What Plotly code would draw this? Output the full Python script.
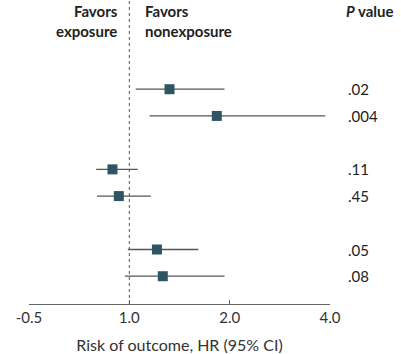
import plotly.graph_objects as go
import math

row_pos = [0, 1, 3, 4, 6, 7]
hr = [1.32, 1.83, 0.89, 0.93, 1.21, 1.26]
ci_low = [1.045, 1.15, 0.795, 0.80, 0.99, 0.97]
ci_high = [1.93, 3.87, 1.06, 1.16, 1.61, 1.93]
p_values = [".02", ".004", ".11", ".45", ".05", ".08"]
tick_vals = [0.5, 1, 2, 4]
tick_text = ["-0.5", "1.0", "2.0", "4.0"]

FONT = "Lato, Roboto, Arial, sans-serif"
fig = go.Figure()
fig.add_trace(go.Scatter(
    x=hr, y=row_pos, mode="markers",
    marker=dict(symbol="square", size=10, color="#2d5564"),
    error_x=dict(type="data", symmetric=False,
                 array=[h - v for h, v in zip(ci_high, hr)],
                 arrayminus=[v - l for v, l in zip(hr, ci_low)],
                 color="#555555", thickness=1.3, width=0),
    showlegend=False, hoverinfo="skip"))

fig.add_shape(type="line", xref="x", yref="paper", x0=1, x1=1, y0=0, y1=1,
              line=dict(color="#555555", width=1, dash="dot"), layer="below")

for y, p in zip(row_pos, p_values):
    fig.add_annotation(x=1.052, xref="paper", y=y, yref="y", text=p,
                       showarrow=False, xanchor="left", yanchor="middle",
                       font=dict(size=15, color="#222222", family=FONT))

fig.add_annotation(x=0.303, xref="paper", y=1.0, yref="paper",
                   text="<b>Favors</b><br><b>exposure</b>", showarrow=False,
                   xanchor="right", yanchor="top", align="right",
                   font=dict(size=15, color="#222222", family=FONT))
fig.add_annotation(x=0.378, xref="paper", y=1.0, yref="paper",
                   text="<b>Favors</b><br><b>nonexposure</b>", showarrow=False,
                   xanchor="left", yanchor="top", align="left",
                   font=dict(size=15, color="#222222", family=FONT))
fig.add_annotation(x=1.22, xref="paper", y=1.0, yref="paper",
                   text="<b><i>P</i> value</b>", showarrow=False,
                   xanchor="right", yanchor="top", align="right",
                   font=dict(size=15, color="#222222", family=FONT))

fig.update_layout(
    width=401, height=354,
    margin=dict(l=29, r=71, t=0, b=50),
    plot_bgcolor="white", paper_bgcolor="white",
    font=dict(family=FONT, size=15, color="#333333"),
    xaxis=dict(type="log", range=[math.log10(0.5), math.log10(4)],
               tickvals=tick_vals, ticktext=tick_text,
               showgrid=False, zeroline=False, showline=True,
               linecolor="#666666", linewidth=1.3,
               ticks="inside", ticklen=4, tickcolor="#666666",
               tickfont=dict(size=15, color="#333333"),
               title=dict(text="Risk of outcome, HR (95% CI)", standoff=14,
                          font=dict(size=16, color="#333333"))),
    yaxis=dict(range=[8.04, -3.34], visible=False, showgrid=False),
)
fig.write_html("out.html", config={"displayModeBar": False},
               post_script="document.body.style.margin='0';document.body.style.overflow='hidden';")
